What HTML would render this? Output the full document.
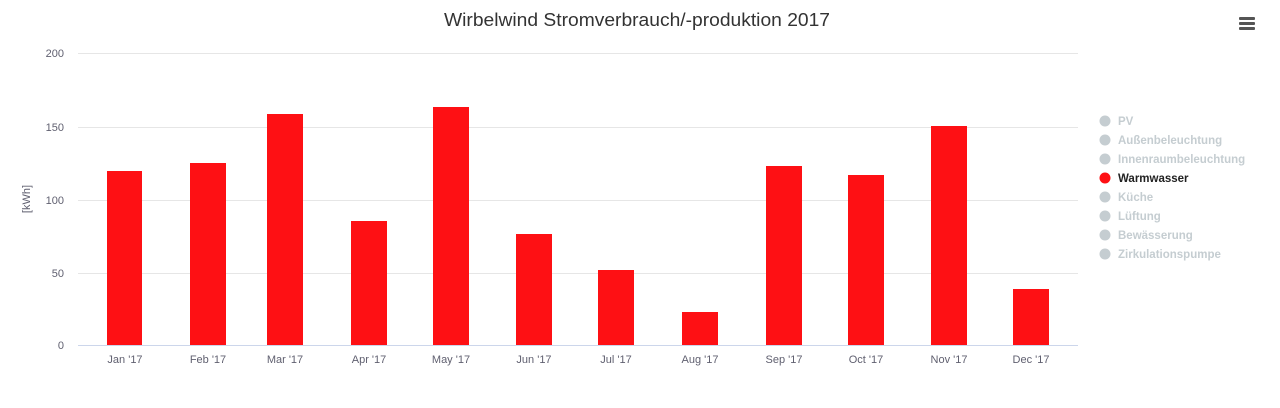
<!DOCTYPE html>
<html><head><meta charset="utf-8"><style>body{margin:0;background:#fff}svg{display:block}</style></head><body>
<svg width="1280" height="408" xmlns="http://www.w3.org/2000/svg" font-family="Liberation Sans, DejaVu Sans, sans-serif">
<rect width="1280" height="408" fill="#fff"/>
<text x="637" y="26" text-anchor="middle" font-size="18" fill="#333" textLength="386" lengthAdjust="spacingAndGlyphs">Wirbelwind Stromverbrauch/-produktion 2017</text>
<g fill="#555"><rect x="1239" y="17" width="16" height="3" rx="1"/><rect x="1239" y="22" width="16" height="3" rx="1"/><rect x="1239" y="27" width="16" height="3" rx="1"/></g>
<g stroke="#e6e6e6" stroke-width="1">
<line x1="78" y1="53.5" x2="1078" y2="53.5"/><line x1="78" y1="127.5" x2="1078" y2="127.5"/><line x1="78" y1="200.5" x2="1078" y2="200.5"/><line x1="78" y1="273.5" x2="1078" y2="273.5"/>
</g>
<line x1="78" y1="345.5" x2="1078" y2="345.5" stroke="#ccd6eb"/>
<g font-size="11" fill="#606070" text-anchor="end">
<text x="64" y="57">200</text><text x="64" y="131">150</text><text x="64" y="204">100</text><text x="64" y="277">50</text><text x="64" y="349">0</text>
</g>
<text transform="translate(30,199) rotate(-90)" text-anchor="middle" font-size="11" fill="#606070">[kWh]</text>
<g fill="#fe1014">
<rect x="107" y="171" width="35" height="174"/>
<rect x="190" y="163" width="36" height="182"/>
<rect x="267" y="114" width="36" height="231"/>
<rect x="351" y="221" width="36" height="124"/>
<rect x="433" y="107" width="36" height="238"/>
<rect x="516" y="234" width="36" height="111"/>
<rect x="598" y="270" width="36" height="75"/>
<rect x="682" y="312" width="36" height="33"/>
<rect x="766" y="166" width="36" height="179"/>
<rect x="848" y="175" width="36" height="170"/>
<rect x="931" y="126" width="36" height="219"/>
<rect x="1013" y="289" width="36" height="56"/>
</g>
<g font-size="11" fill="#606070" text-anchor="middle">
<text x="125" y="363">Jan '17</text><text x="208" y="363">Feb '17</text><text x="285" y="363">Mar '17</text><text x="369" y="363">Apr '17</text><text x="451" y="363">May '17</text><text x="534" y="363">Jun '17</text><text x="616" y="363">Jul '17</text><text x="700" y="363">Aug '17</text><text x="784" y="363">Sep '17</text><text x="866" y="363">Oct '17</text><text x="949" y="363">Nov '17</text><text x="1031" y="363">Dec '17</text>
</g>
<g font-size="11.5" font-weight="bold" fill="#c5cdd1">
<circle cx="1105" cy="121" r="5.5" fill="#c5cdd1"/><text x="1118" y="125">PV</text>
<circle cx="1105" cy="140" r="5.5" fill="#c5cdd1"/><text x="1118" y="144">Außenbeleuchtung</text>
<circle cx="1105" cy="159" r="5.5" fill="#c5cdd1"/><text x="1118" y="163">Innenraumbeleuchtung</text>
<circle cx="1105" cy="178" r="5.5" fill="#fe1014"/><text x="1118" y="182" fill="#222">Warmwasser</text>
<circle cx="1105" cy="197" r="5.5" fill="#c5cdd1"/><text x="1118" y="201">Küche</text>
<circle cx="1105" cy="216" r="5.5" fill="#c5cdd1"/><text x="1118" y="220">Lüftung</text>
<circle cx="1105" cy="235" r="5.5" fill="#c5cdd1"/><text x="1118" y="239">Bewässerung</text>
<circle cx="1105" cy="254" r="5.5" fill="#c5cdd1"/><text x="1118" y="258">Zirkulationspumpe</text>
</g>
</svg>
</body></html>
